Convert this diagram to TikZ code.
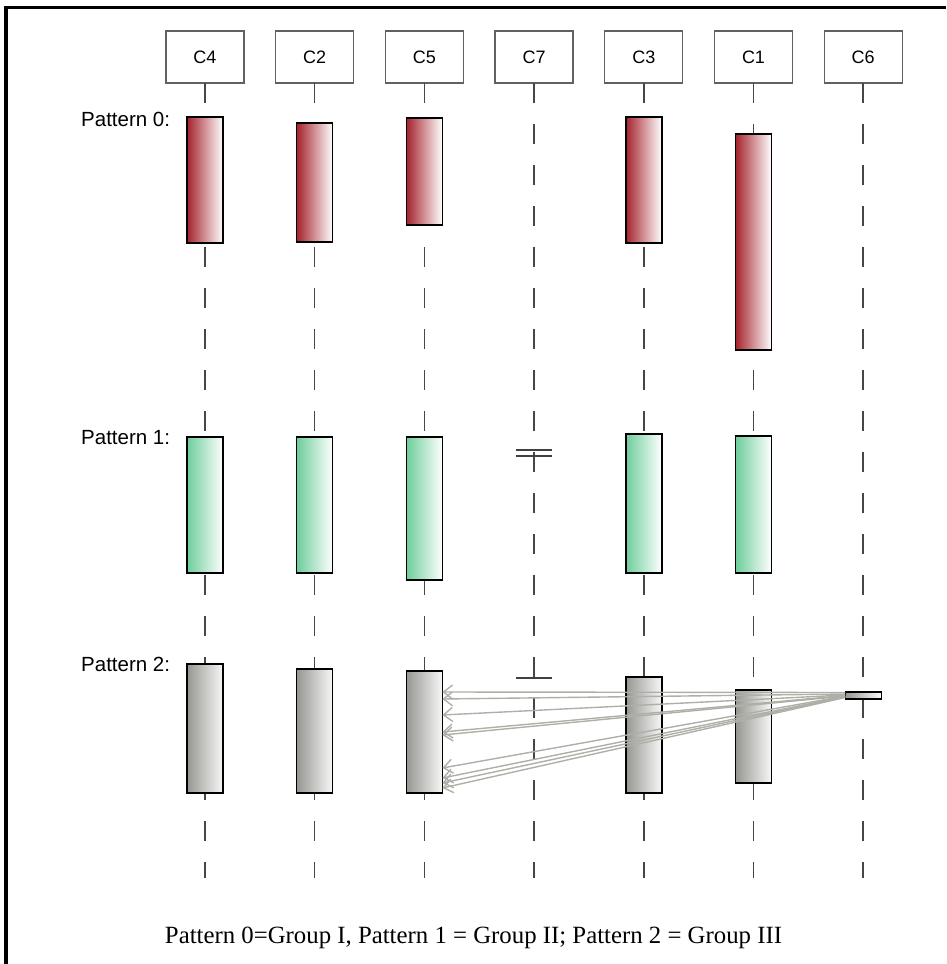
\documentclass[tikz,border=0pt]{standalone}
\usepackage{fontspec}
\setmainfont{Liberation Serif}
\newfontfamily\uifont{Liberation Sans}
\usetikzlibrary{arrows.meta,calc}
\definecolor{redL}{RGB}{165,35,45}
\definecolor{greenL}{RGB}{110,205,155}
\definecolor{greyL}{RGB}{150,150,145}
\definecolor{msgcol}{RGB}{175,175,168}
\definecolor{lifecol}{RGB}{70,70,70}
\begin{document}
\begin{tikzpicture}[x=1pt,y=-1pt,
  hdr/.style={draw=black!62, line width=1.3pt, minimum width=78pt, minimum height=52pt, inner sep=0pt, outer sep=0pt, font=\uifont\fontsize{18}{20}\selectfont},
  barbox/.style={draw=black, line width=1.5pt, inner sep=0pt, outer sep=0pt, minimum width=36pt, anchor=north},
  redbar/.style={barbox, left color=redL, right color=white},
  greenbar/.style={barbox, left color=greenL, right color=white},
  greybar/.style={barbox, left color=greyL, right color=white!97!black},
  life/.style={draw=lifecol, line width=1.5pt, dash pattern=on 20pt off 21pt},
  tickmark/.style={draw=black!75, line width=1.5pt},
  lbl/.style={anchor=base west, inner sep=0pt, font=\uifont\fontsize{20.5}{22}\selectfont},
  msg/.style={draw=msgcol, line width=1.4pt, -{Straight Barb[length=9pt,width=14pt]}},
  frameline/.style={draw=black, line width=3.5pt}
]
\useasboundingbox (0,0) rectangle (946,964);
\draw[frameline] (6,7.5) -- (946,7.5);
\draw[frameline] (6,6) -- (6,964);

% headers
\node[hdr] (c4) at (205,57) {C4};
\node[hdr] (c2) at (314.7,57) {C2};
\node[hdr] (c5) at (424.4,57) {C5};
\node[hdr] (c7) at (534.1,57) {C7};
\node[hdr] (c3) at (643.8,57) {C3};
\node[hdr] (c1) at (753.5,57) {C1};
\node[hdr] (c6) at (863.2,57) {C6};

% lifelines
\foreach \c in {c4,c2,c5,c7,c3,c1,c6}
  \draw[life] (\c.south) -- (\c.south |- 0,878);

% pattern labels
\node[lbl] (l0) at (81,126) {Pattern 0:};
\node[lbl] (l1) at (81,444) {Pattern 1:};
\node[lbl] (l2) at (81,671) {Pattern 2:};

% pattern 0
\node[redbar, minimum height=126pt] (p0c4) at (205,117) {};
\node[redbar, minimum height=119pt] (p0c2) at (314.7,123) {};
\node[redbar, minimum height=107pt] (p0c5) at (424.4,118) {};
\node[redbar, minimum height=126pt] (p0c3) at (643.8,117) {};
\node[redbar, minimum height=216pt] (p0c1) at (753.5,134) {};

% pattern 1
\node[greenbar, minimum height=136pt] (p1c4) at (205,437) {};
\node[greenbar, minimum height=136pt] (p1c2) at (314.7,437) {};
\node[greenbar, minimum height=143pt] (p1c5) at (424.4,437) {};
\node[greenbar, minimum height=139pt] (p1c3) at (643.8,434) {};
\node[greenbar, minimum height=137pt] (p1c1) at (753.5,436) {};
\coordinate (k1) at (534.1,450);
\coordinate (k2) at (534.1,456);
\draw[tickmark] ([xshift=-18pt]k1) -- ([xshift=18pt]k1);
\draw[tickmark] ([xshift=-18pt]k2) -- ([xshift=18pt]k2);

% pattern 2
\node[greybar, minimum height=129pt] (p2c4) at (205,664) {};
\node[greybar, minimum height=124pt] (p2c2) at (314.7,669) {};
\node[greybar, minimum height=122pt] (p2c5) at (424.4,671) {};
\node[greybar, minimum height=116pt] (p2c3) at (643.8,677) {};
\node[greybar, minimum height=93pt] (p2c1) at (753.5,690) {};
\node[greybar, minimum height=7pt, line width=1.3pt] (p2c6) at (863.2,692) {};
\coordinate (k3) at (534.1,678);
\draw[tickmark] ([xshift=-18pt]k3) -- ([xshift=18pt]k3);

% messages
\draw[msg] (p2c6.west |- 0,692.5) -- (p2c5.east |- 0,692);
\draw[msg] (p2c6.west |- 0,694) -- (p2c5.east |- 0,699);
\draw[msg] (p2c6.west |- 0,695) -- (p2c5.east |- 0,715);
\draw[msg] (p2c6.west |- 0,695.5) -- (p2c5.east |- 0,732);
\draw[msg] (p2c6.west |- 0,696) -- (p2c5.east |- 0,735);
\draw[msg] (p2c6.west |- 0,696) -- (p2c5.east |- 0,768);
\draw[msg] (p2c6.west |- 0,696.5) -- (p2c5.east |- 0,778);
\draw[msg] (p2c6.west |- 0,697) -- (p2c5.east |- 0,783);
\draw[msg] (p2c6.west |- 0,697.5) -- (p2c5.east |- 0,788);

% caption
\node[font=\fontsize{24.8}{27}\selectfont, inner sep=0pt] (cap) at (473.5,938) {Pattern 0=Group I, Pattern 1 = Group II; Pattern 2 = Group III};
\end{tikzpicture}
\end{document}
